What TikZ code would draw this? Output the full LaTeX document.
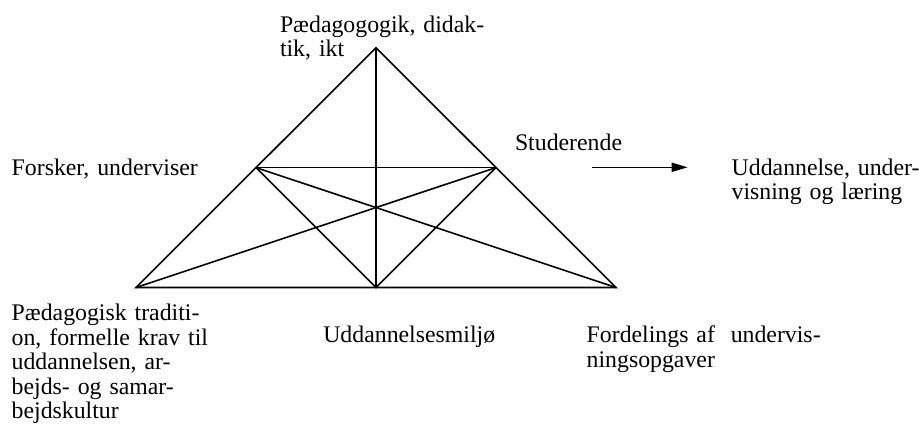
\documentclass[tikz,border=0pt]{standalone}
\usepackage{fontspec}
\setmainfont{Liberation Serif}
\usetikzlibrary{arrows.meta}
\begin{document}
\begin{tikzpicture}[x=1pt,y=-1pt,
  edge/.style={line width=1.6pt,line join=miter},
  lbl/.style={anchor=base west,inner sep=0pt,outer sep=0pt,text width=300pt,align=left,
    font=\fontsize{23.8}{24.5}\selectfont},
  arr/.style={line width=1.6pt,-{Triangle[length=16pt,width=9pt]}}]
\useasboundingbox (0,0) rectangle (919,432);
% vertices
\coordinate (A) at (376,47.7);
\coordinate (BL) at (136,287.5);
\coordinate (BR) at (616,287.5);
\coordinate (M) at (376,287.5);
\coordinate (L) at (256,167.6);
\coordinate (R) at (496,167.6);
% triangle and inner lines
\draw[edge] (A) -- (BL) -- (BR) -- cycle;
\draw[edge] (L) -- (R);
\draw[edge] (A) -- (M);
\draw[edge] (L) -- (M) -- (R);
\draw[edge] (L) -- (BR);
\draw[edge] (R) -- (BL);
% labels
\node[lbl] (top) at (280,32) {Pædagogogik, didak-\\tik, ikt};
\node[lbl] (forsker) at (11.7,175) {Forsker, underviser};
\node[lbl] (stud) at (515,150.7) {Studerende};
\node[lbl] (udd) at (731.7,175) {Uddannelse, under-\\visning og læring};
\node[lbl] (trad) at (11.7,320.5) {Pædagogisk traditi-\\on, formelle krav til\\uddannelsen, ar-\\bejds- og samar-\\bejdskultur};
\node[lbl] (miljo) at (323.3,342.7) {Uddannelsesmiljø};
\node[lbl] (ford) at (586.7,342.7) {Fordelings af~ undervis-\\ningsopgaver};
% arrow
\coordinate (as) at (591.7,167.3);
\coordinate (ae) at (687.7,167.3);
\draw[arr] (as) -- (ae);
\end{tikzpicture}
\end{document}
